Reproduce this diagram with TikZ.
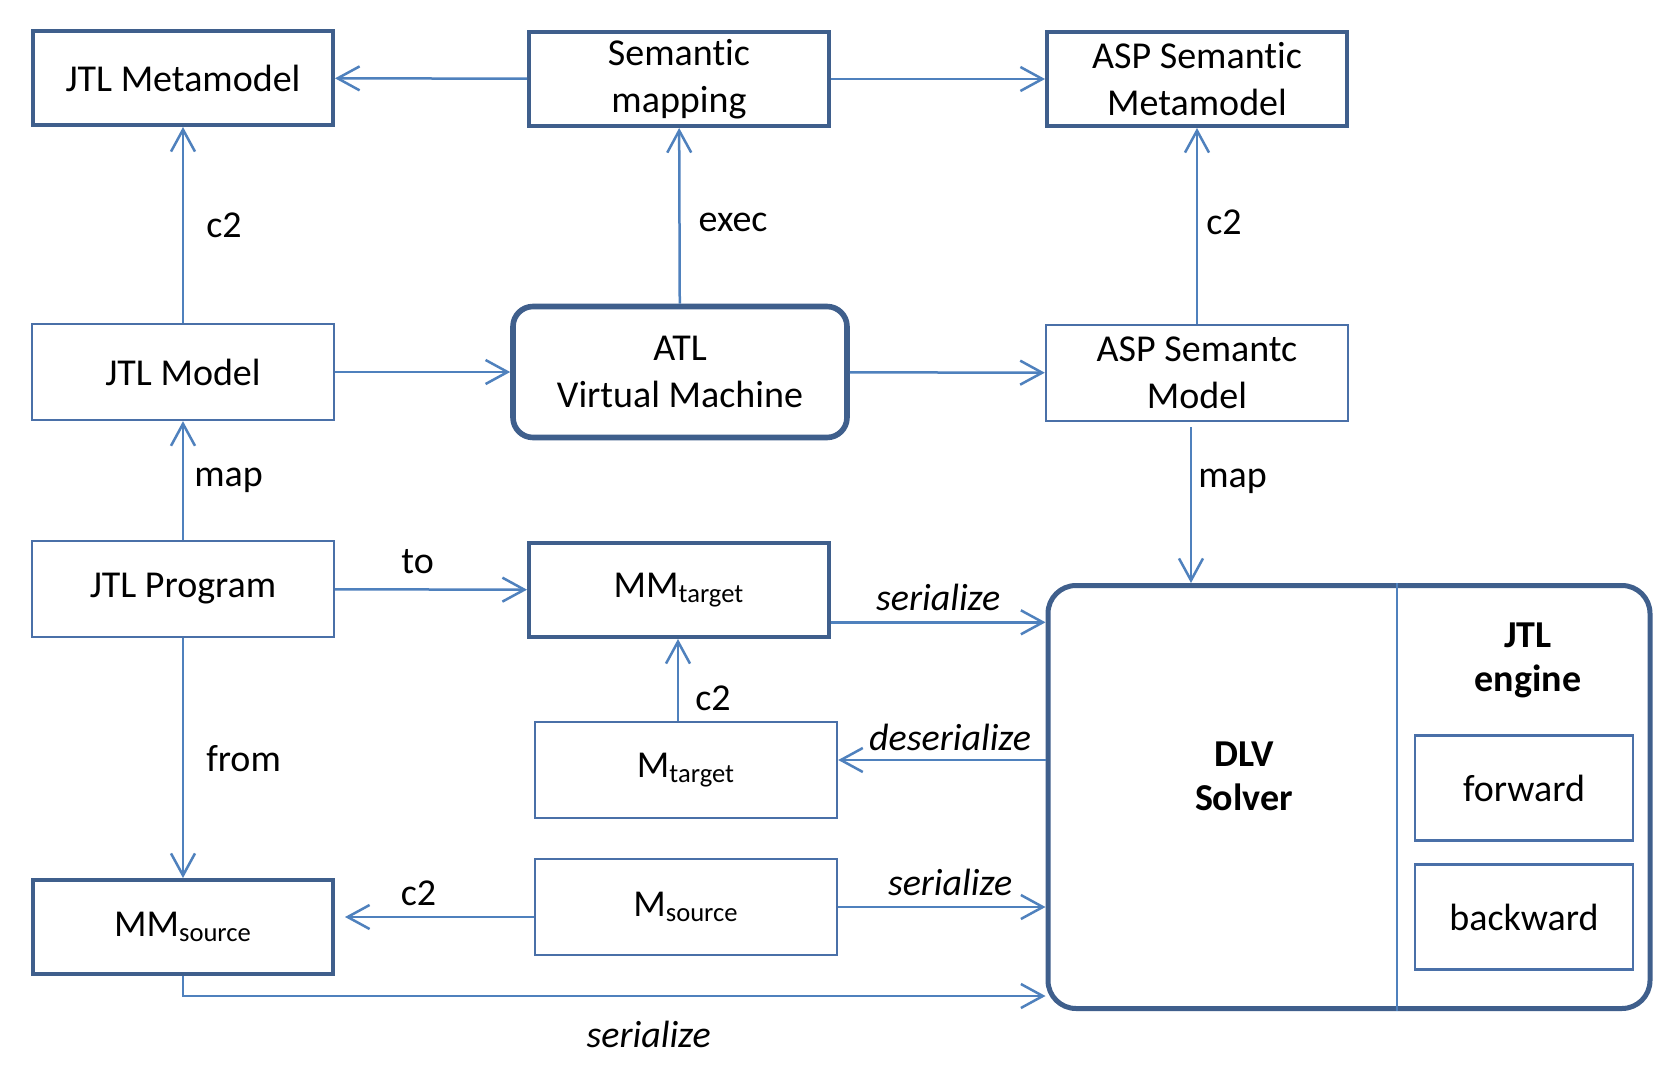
\documentclass[tikz,border=0pt]{standalone}
\usepackage{fontspec}
\setmainfont{Carlito}[Ligatures=NoCommon]
\usetikzlibrary{arrows.meta}

\definecolor{boxblue}{HTML}{3F5F8C}
\definecolor{thinblue}{HTML}{4A70A8}
\definecolor{lineblue}{HTML}{4F81BD}
\newcommand{\diagfont}{\fontsize{19}{23.5}\selectfont}

\begin{document}
\begin{tikzpicture}[x=0.5pt, y=-0.5pt, font=\diagfont,
  model/.style={draw=boxblue, line width=2pt, minimum width=150pt, minimum height=47pt, align=center, inner sep=0pt},
  inst/.style={draw=thinblue, line width=1.2pt, minimum width=151pt, minimum height=48pt, align=center, inner sep=0pt},
  vm/.style={draw=boxblue, line width=2.8pt, rounded corners=10pt, minimum width=167pt, minimum height=65.5pt, align=center},
  solver/.style={draw=boxblue, line width=2.5pt, rounded corners=14pt, minimum width=301pt, minimum height=211.5pt},
  link/.style={draw=lineblue, line width=1.25pt, -{Straight Barb[length=11pt, width=12pt]}},
  lbl/.style={inner sep=0pt, text=black},
  act/.style={lbl, font=\diagfont\itshape}]
% Canvas with the margins of the figure
\fill[white] (0,0) rectangle (1666,1070);
\useasboundingbox (0,0) rectangle (1666,1070);
% Top row: metamodels and semantic mapping
\node[model] (jmm) at (183,78) {JTL Metamodel};
\node[model] (smap) at (679,79) {Semantic\\mapping};
\node[model] (aspmm) at (1197,79) {ASP Semantic\\Metamodel};
% Middle row: models and the ATL machine
\node[inst] (jm) at (183,372) {JTL Model};
\node[vm] (atl) at (680,372) {ATL\\Virtual Machine};
\node[inst] (aspm) at (1197,373) {ASP Semantc\\Model};
% Lower part: program, source and target
\node[inst] (jprog) at (183,589) {JTL Program};
\node[model] (mmt) at (679,590) {MM\textsubscript{target}};
\node[inst] (mt) at (686,770) {M\textsubscript{target}};
\node[inst] (ms) at (686,907) {M\textsubscript{source}};
\node[model] (mms) at (183,927) {MM\textsubscript{source}};
% The solver with its engine
\node[solver] (dlv) at (1349,797) {};
\draw[draw=lineblue, line width=0.8pt] (1397,0 |- dlv.north) -- (1397,0 |- dlv.south);
\node[lbl, font=\fontsize{19}{22}\selectfont\bfseries, align=center] (dlvtxt) at (1244,776) {DLV\\Solver};
\node[lbl, font=\fontsize{19}{22}\selectfont\bfseries, align=center] (engine) at (1528,660) {JTL\\engine};
\node[inst, minimum width=109pt, minimum height=52.5pt] (fwd) at (1524,788) {forward};
\node[inst, minimum width=109pt, minimum height=52.5pt] (bwd) at (1524,917) {backward};
% Connectors of the upper half
\draw[link] (smap) -- (jmm);
\draw[link] (smap) -- (aspmm);
\draw[link] (jm) -- (jmm) node[lbl, pos=0.5, right=11pt] {c2};
\draw[link] (atl) -- (smap) node[lbl, pos=0.46, right=9pt] {exec};
\draw[link] (aspm) -- (aspmm) node[lbl, pos=0.52, right=4pt] {c2};
\draw[link] (jm) -- (atl);
\draw[link] (atl) -- (aspm);
\draw[link] (jprog) -- (jm) node[lbl, pos=0.5, right=5pt] {map};
\coordinate (mapstart) at ([xshift=-3pt, yshift=-2.5pt]aspm.south);
\draw[link] (mapstart) -- (mapstart |- dlv.north) node[lbl, pos=0.35, right=3pt] {map};
% Connectors of the lower half
\draw[link] (jprog) -- (mmt) node[lbl, pos=0.43, above=7pt] {to};
\draw[link] (mmt.-12) -- (mmt.-12 -| dlv.west) node[act, midway, above=5pt] {serialize};
\draw[link] ([xshift=-4pt]mt.north) -- ([xshift=-4pt]mt.north |- mmt.south) node[lbl, pos=0.27, right=8pt] {c2};
\coordinate (deser) at ([yshift=5pt]mt.east);
\draw[link] (deser -| dlv.west) -- (deser) node[act, pos=0.46, above=4pt] {deserialize};
\draw[link] (jprog) -- (mms) node[lbl, pos=0.5, right=11pt] {from};
\coordinate (c2src) at ([yshift=-5pt]ms.west);
\draw[link, shorten >=5pt] (c2src) -- (c2src -| mms.east) node[lbl, pos=0.58, above=5pt] {c2};
\draw[link] (ms.east) -- (ms.east -| dlv.west) node[act, pos=0.54, above=5pt] {serialize};
\coordinate (ser3) at (dlv.west |- 0,996);
\draw[link] (mms.south) |- (ser3) node[act, pos=0.77, below=12pt] {serialize};
\end{tikzpicture}
\end{document}
